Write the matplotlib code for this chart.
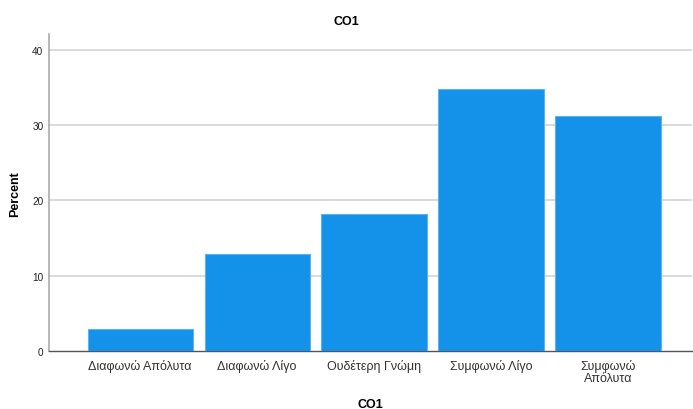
import matplotlib

matplotlib.use("Agg")
import matplotlib.pyplot as plt

plt.rcParams["font.family"] = ["Liberation Sans", "DejaVu Sans"]

categories = ["Διαφωνώ Απόλυτα", "Διαφωνώ Λίγο", "Ουδέτερη Γνώμη", "Συμφωνώ Λίγο", "Συμφωνώ\nΑπόλυτα"]
percent = [2.9, 12.9, 18.2, 34.7, 31.2]
yticks = [0, 10, 20, 30, 40]

fig = plt.figure(figsize=(6.93, 4.10), dpi=100)
ax = fig.add_axes([0.0707, 0.1415, 0.928, 0.772])

x = list(range(len(categories)))
ax.bar(x, percent, width=0.9, color="#1491E8", edgecolor="#5DB3EF", linewidth=0.8, zorder=3)

ax.set_xlim(-0.78, 4.72)
ax.set_ylim(0, 42.0)
ax.set_yticks(yticks)
ax.set_yticklabels([str(v) for v in yticks], fontsize=7.2, color="#222222")
ax.set_xticks(x)
ax.set_xticklabels(categories, fontsize=9, color="#333333", linespacing=1.0)
ax.tick_params(axis="both", length=0)
ax.tick_params(axis="x", pad=6)
ax.tick_params(axis="y", pad=4)

for v in yticks[1:]:
    ax.axhline(v, color="#D4D4D4", linewidth=1.2, zorder=1)

for side in ("top", "right"):
    ax.spines[side].set_visible(False)
ax.spines["left"].set_color("#AAAAAA")
ax.spines["left"].set_linewidth(1.2)
ax.spines["bottom"].set_color("#555555")
ax.spines["bottom"].set_linewidth(1.0)

ax.set_ylabel("Percent", fontsize=9, fontweight="bold", labelpad=8)
ax.set_xlabel("CO1", fontsize=9, fontweight="bold", labelpad=10)
fig.text(0.5, 0.946, "CO1", ha="center", va="center", fontsize=9, fontweight="bold")

fig.savefig("out.png", dpi=100)
